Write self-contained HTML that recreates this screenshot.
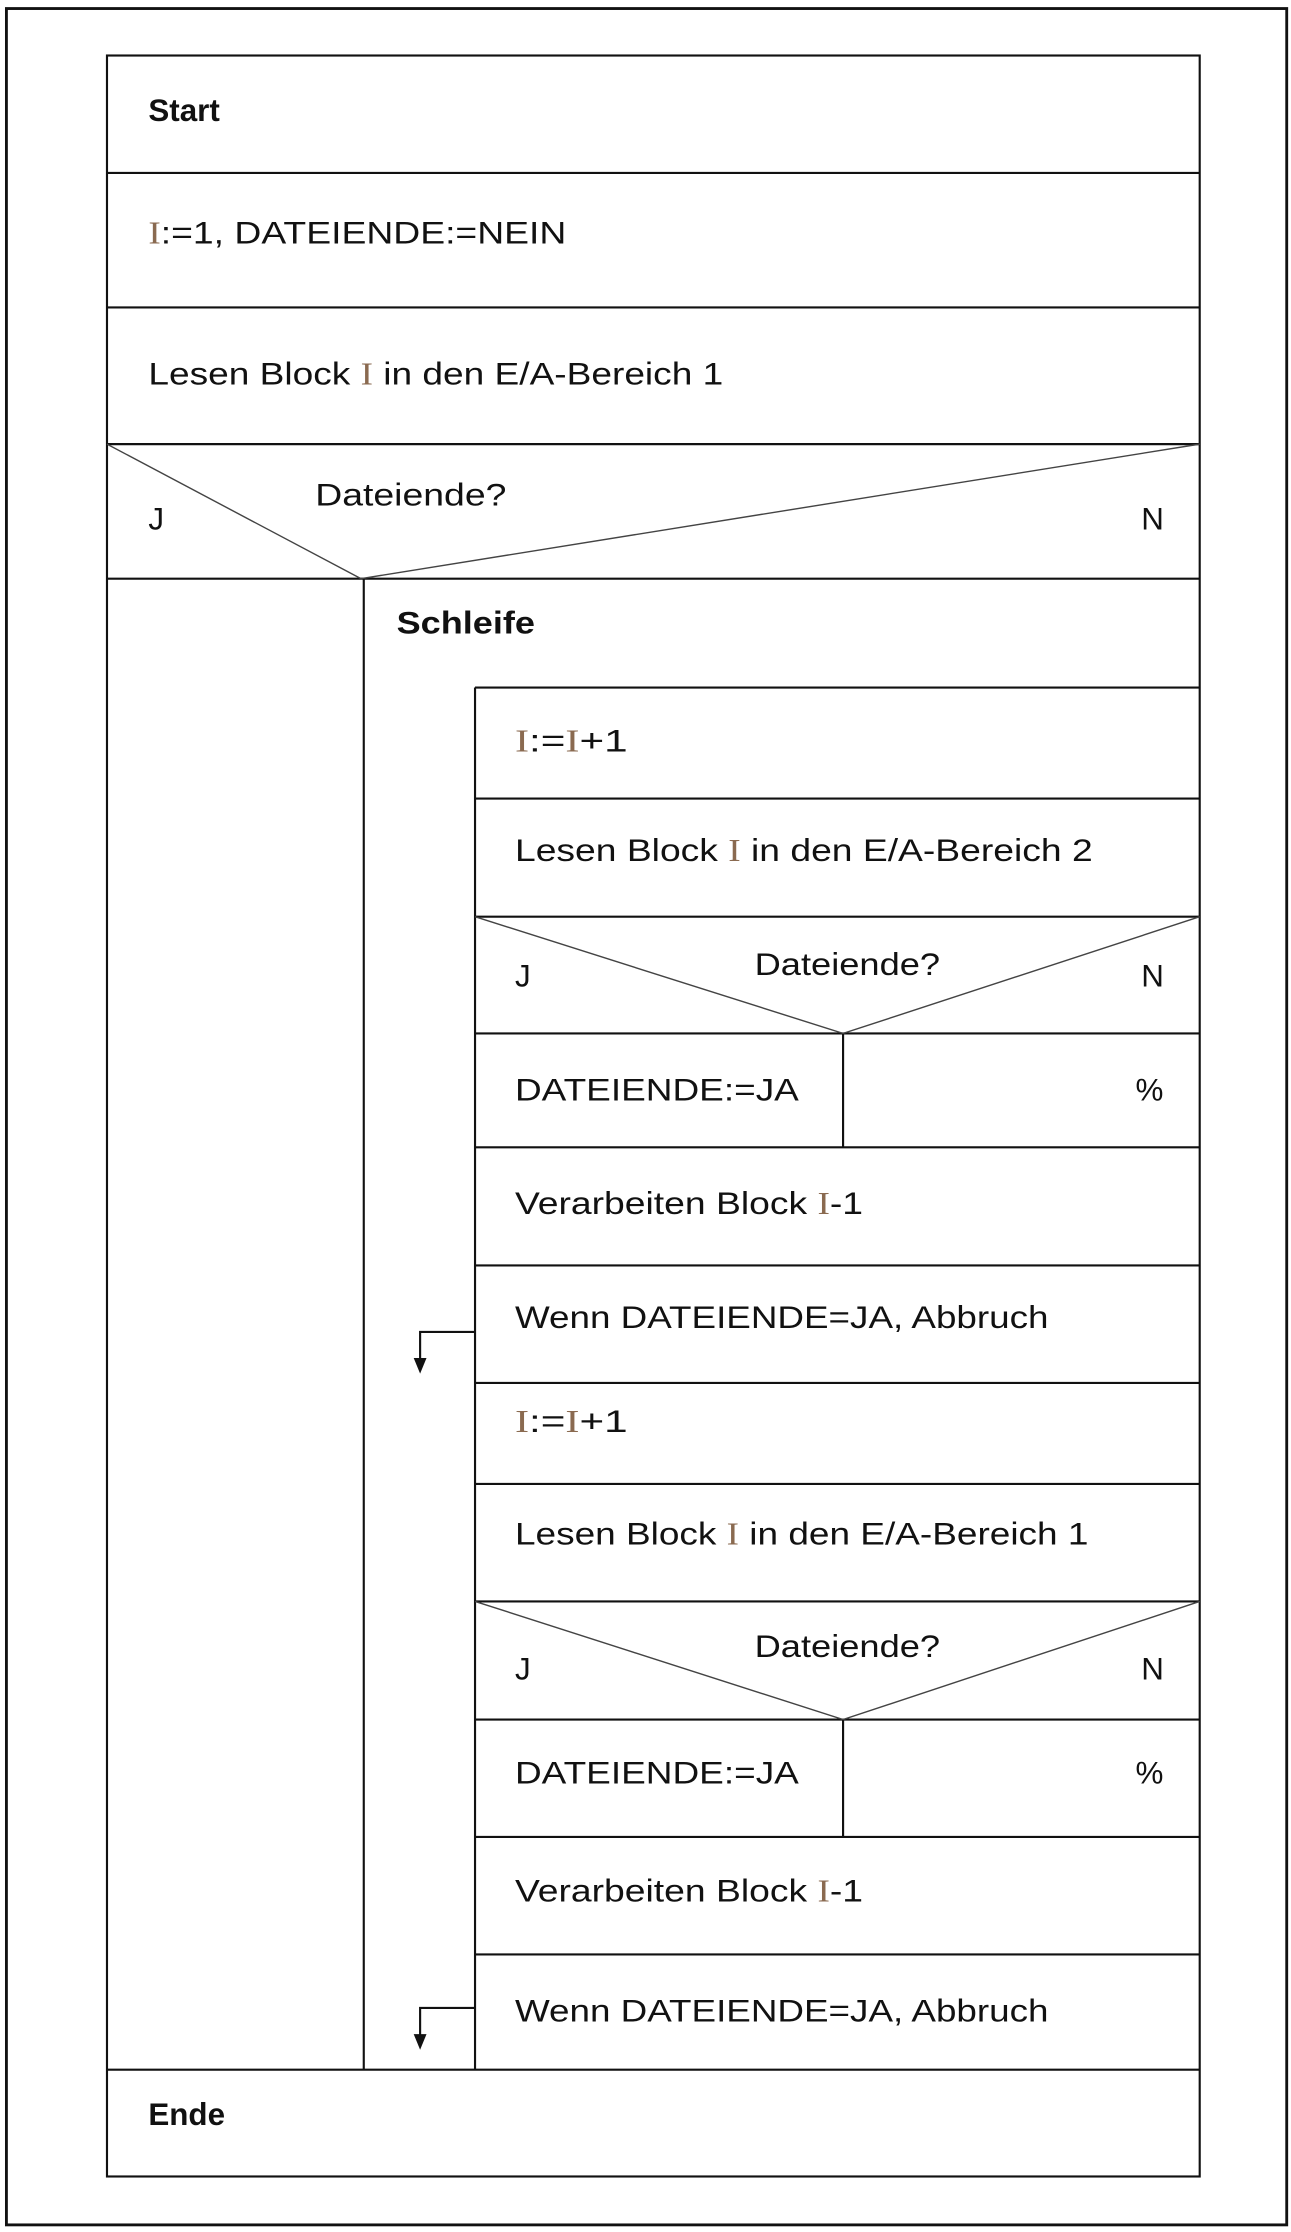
<!DOCTYPE html>
<html><head><meta charset="utf-8"><style>
html,body{margin:0;padding:0;background:#fff;}
svg{display:block;}
text{font-family:"Liberation Sans",Arial,sans-serif;font-size:22px;fill:#111;}
.b{font-weight:bold;}
.i{font-family:"Liberation Serif",serif;fill:#8a6a50;}
</style></head><body>
<svg width="1291" height="2232" viewBox="0 0 905 1568" preserveAspectRatio="none" xmlns="http://www.w3.org/2000/svg">
<rect x="4.5" y="6" width="897.5" height="1557" fill="none" stroke="#111" stroke-width="2"/>
<g stroke="#111" stroke-width="1.5" fill="none">
<rect x="75" y="39" width="766" height="1490"/>
<line x1="75" y1="121.5" x2="841" y2="121.5"/>
<line x1="75" y1="216" x2="841" y2="216"/>
<line x1="75" y1="312" x2="841" y2="312"/>
<line x1="75" y1="406.5" x2="841" y2="406.5"/>
<line x1="255" y1="406.5" x2="255" y2="1454"/>
<line x1="75" y1="1454" x2="841" y2="1454"/>
<line x1="333" y1="483" x2="841" y2="483"/>
<line x1="333" y1="483" x2="333" y2="1454"/>
<line x1="333" y1="561" x2="841" y2="561"/>
<line x1="333" y1="644" x2="841" y2="644"/>
<line x1="333" y1="726" x2="841" y2="726"/>
<line x1="591" y1="726" x2="591" y2="806"/>
<line x1="333" y1="806" x2="841" y2="806"/>
<line x1="333" y1="889" x2="841" y2="889"/>
<line x1="333" y1="971.5" x2="841" y2="971.5"/>
<line x1="333" y1="1042.5" x2="841" y2="1042.5"/>
<line x1="333" y1="1125" x2="841" y2="1125"/>
<line x1="333" y1="1208" x2="841" y2="1208"/>
<line x1="591" y1="1208" x2="591" y2="1290.5"/>
<line x1="333" y1="1290.5" x2="841" y2="1290.5"/>
<line x1="333" y1="1373" x2="841" y2="1373"/>
<polyline points="333,935.7 294.5,935.7 294.5,956"/>
<polyline points="333,1410.6 294.5,1410.6 294.5,1431"/>
</g>
<g stroke="#444" stroke-width="1" fill="none">
<polyline points="75,312 253,406.5 841,312"/>
<polyline points="333,644 591,726 841,644"/>
<polyline points="333,1125 591,1208 841,1125"/>
</g>
<polygon points="290,954 299,954 294.5,965" fill="#111"/>
<polygon points="290,1429 299,1429 294.5,1440" fill="#111"/>

<text class="b" x="104" y="85">Start</text>
<text x="104" y="171" textLength="293" lengthAdjust="spacingAndGlyphs"><tspan class="i">I</tspan>:=1, DATEIENDE:=NEIN</text>
<text x="104" y="270" textLength="403" lengthAdjust="spacingAndGlyphs">Lesen Block <tspan class="i">I</tspan> in den E/A-Bereich 1</text>
<text x="221" y="355" textLength="134" lengthAdjust="spacingAndGlyphs">Dateiende?</text>
<text x="104" y="372">J</text>
<text x="800" y="372">N</text>
<text class="b" x="278" y="445" textLength="97" lengthAdjust="spacingAndGlyphs">Schleife</text>

<text x="361" y="528" textLength="79" lengthAdjust="spacingAndGlyphs"><tspan class="i">I</tspan>:=<tspan class="i">I</tspan>+1</text>
<text x="361" y="605" textLength="405" lengthAdjust="spacingAndGlyphs">Lesen Block <tspan class="i">I</tspan> in den E/A-Bereich 2</text>
<text x="529" y="685" textLength="130" lengthAdjust="spacingAndGlyphs">Dateiende?</text>
<text x="361" y="693">J</text>
<text x="800" y="693">N</text>
<text x="361" y="773" textLength="199" lengthAdjust="spacingAndGlyphs">DATEIENDE:=JA</text>
<text x="796" y="773">%</text>
<text x="361" y="853" textLength="244" lengthAdjust="spacingAndGlyphs">Verarbeiten Block <tspan class="i">I</tspan>-1</text>
<text x="361" y="933" textLength="374" lengthAdjust="spacingAndGlyphs">Wenn DATEIENDE=JA, Abbruch</text>

<text x="361" y="1006" textLength="79" lengthAdjust="spacingAndGlyphs"><tspan class="i">I</tspan>:=<tspan class="i">I</tspan>+1</text>
<text x="361" y="1085" textLength="402" lengthAdjust="spacingAndGlyphs">Lesen Block <tspan class="i">I</tspan> in den E/A-Bereich 1</text>
<text x="529" y="1164" textLength="130" lengthAdjust="spacingAndGlyphs">Dateiende?</text>
<text x="361" y="1180">J</text>
<text x="800" y="1180">N</text>
<text x="361" y="1253" textLength="199" lengthAdjust="spacingAndGlyphs">DATEIENDE:=JA</text>
<text x="796" y="1253">%</text>
<text x="361" y="1336" textLength="244" lengthAdjust="spacingAndGlyphs">Verarbeiten Block <tspan class="i">I</tspan>-1</text>
<text x="361" y="1420" textLength="374" lengthAdjust="spacingAndGlyphs">Wenn DATEIENDE=JA, Abbruch</text>

<text class="b" x="104" y="1493">Ende</text>
</svg>
</body></html>
